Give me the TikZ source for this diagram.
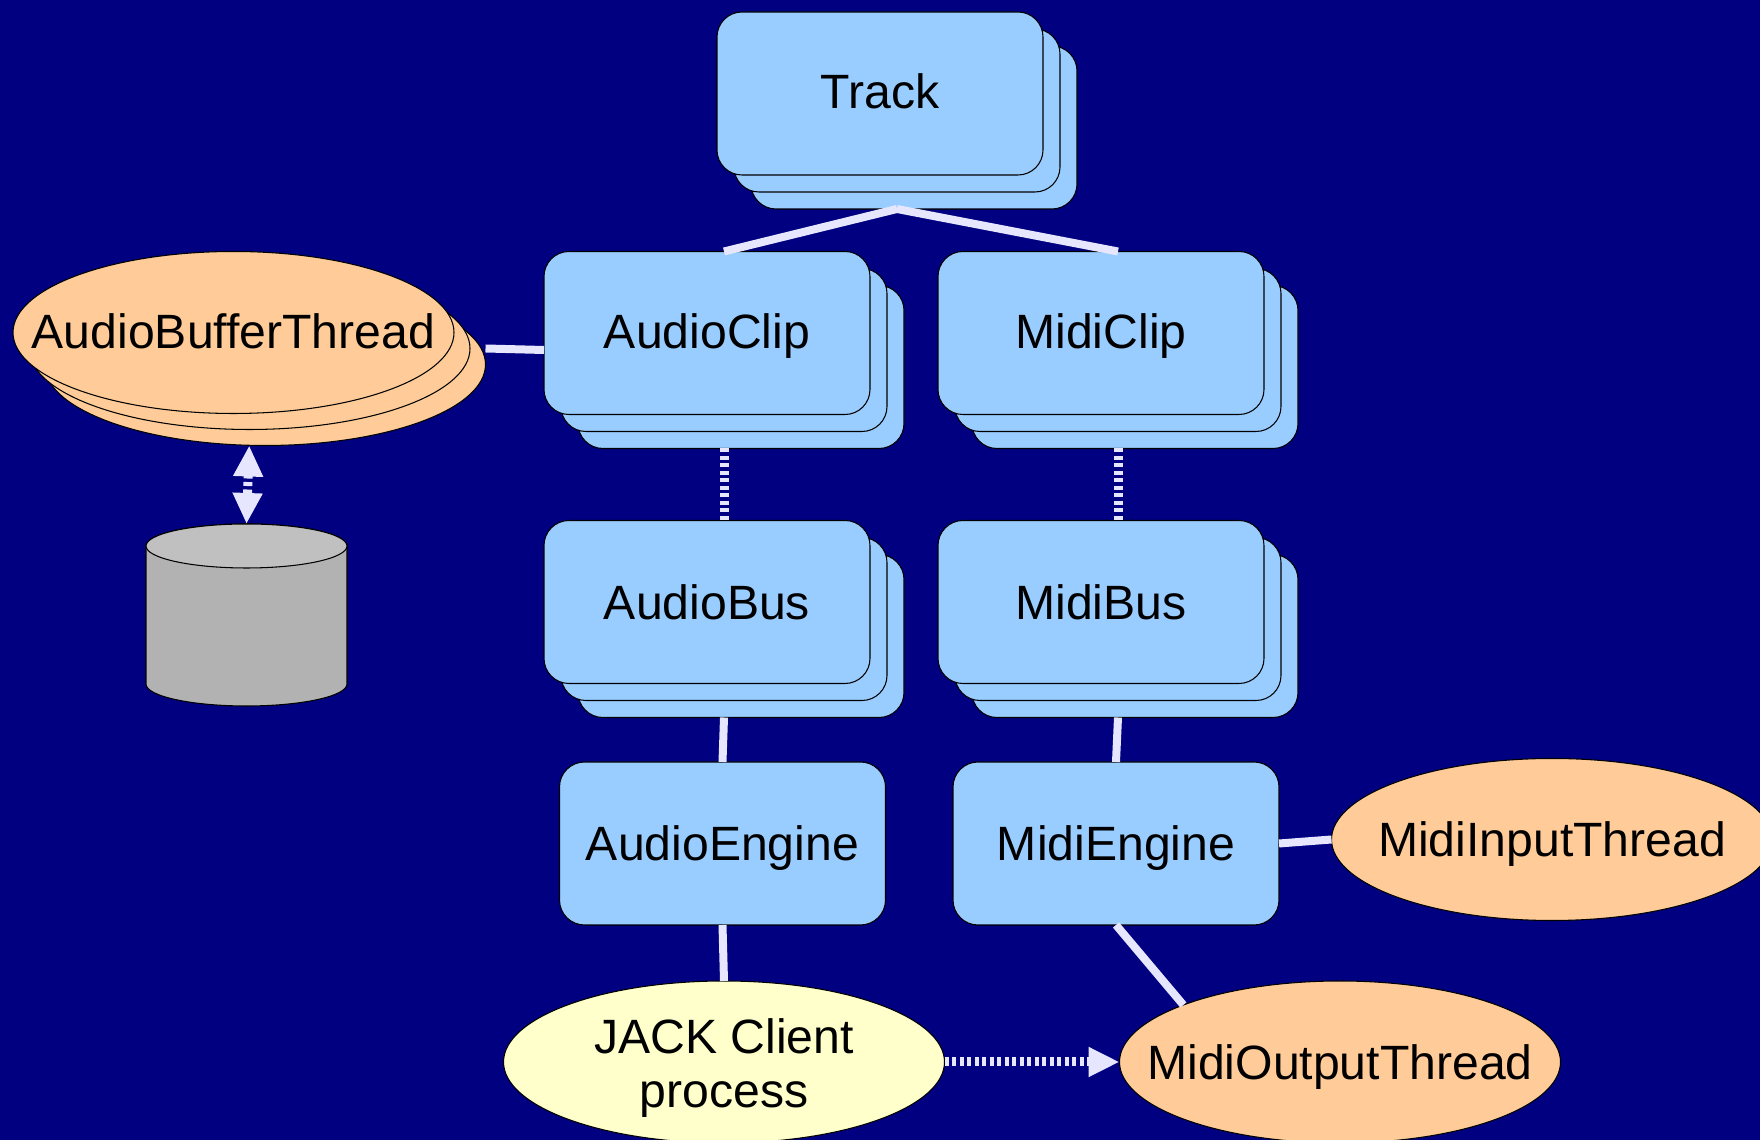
\documentclass[tikz,border=0pt]{standalone}
\usepackage{fontspec}
\setmainfont{Liberation Sans}
\usetikzlibrary{arrows.meta,shapes.geometric,positioning,fit,calc}

\definecolor{bgblue}{HTML}{000080}
\definecolor{boxblue}{HTML}{99CCFF}
\definecolor{threadorange}{HTML}{FFCC99}
\definecolor{clientyellow}{HTML}{FFFFCC}
\definecolor{linkcol}{HTML}{E6E6FF}
\definecolor{disktop}{HTML}{C0C0C0}
\definecolor{diskbody}{HTML}{B2B2B2}

\newcommand{\ovaltext}[1]{\makebox[0pt]{#1}}

\tikzset{
	label font/.style={node font=\fontsize{13.7}{15.4}\selectfont, text=black, text height=0.42cm, text depth=0.07cm},
	classbox/.style={label font, draw=black, line width=0.3pt, fill=boxblue, rounded corners=0.25cm,
		minimum width=3.26cm, minimum height=1.63cm, inner sep=0pt, outer sep=0pt},
	threadoval/.style={label font, ellipse, draw=black, line width=0.3pt, fill=threadorange,
		minimum width=4.41cm, minimum height=1.62cm, inner sep=0pt, outer sep=0pt},
	clientoval/.style={threadoval, fill=clientyellow},
	disk shape/.style={draw=black, line width=0.3pt},
	link/.style={linkcol, line width=0.08cm},
	dotlink/.style={linkcol, line width=0.09cm, dash pattern=on 0.04cm off 0.035cm},
	dothead/.style={-{Triangle[length=0.31cm,width=0.28cm]}},
}

\begin{document}
\begin{tikzpicture}
	\useasboundingbox (0,0) rectangle (17.6,11.4);
	\fill[bgblue] (0,0) rectangle (17.6,11.4);

	% Stacked classes
	\foreach \name/\x/\y/\txt/\high in {track/8.80/10.465/Track/0.37, audioclip/7.07/8.07/AudioClip/0.38, midiclip/11.01/8.07/MidiClip/0.38,
		audiobus/7.07/5.38/AudioBus/0.43, midibus/11.01/5.38/MidiBus/0.43} {
		\node[classbox] (\name-back) at (\x+0.34,\y-0.34) {};
		\node[classbox] (\name-mid) at (\x+0.17,\y-0.17) {};
		\node[classbox, text height=\high cm] (\name-front) at (\x,\y) {\txt};
		\node[fit=(\name-back)(\name-front), inner sep=0pt, outer sep=0pt] (\name) {};
	}

	% Engines
	\node[classbox] (audioengine) at (7.225,2.965) {AudioEngine};
	\node[classbox] (midiengine) at (11.16,2.965) {MidiEngine};

	% Buffer thread stack
	\node[threadoval] (buffer-back) at (2.65,7.755) {};
	\node[threadoval] (buffer-mid) at (2.495,7.915) {};
	\node[threadoval, text height=0.40cm] (buffer-front) at (2.335,8.075) {\ovaltext{AudioBufferThread}};
	\node[fit=(buffer-back)(buffer-front), inner sep=0pt, outer sep=0pt] (buffer) {};

	% Disk
	\coordinate (disk) at (2.465,6.16);
	\draw[disk shape, fill=diskbody] (1.46,5.94) -- (1.46,4.56) arc[start angle=180, end angle=360, x radius=1.005, y radius=0.22]
		-- (3.47,5.94) arc[start angle=0, end angle=180, x radius=1.005, y radius=0.22] -- cycle;
	\draw[disk shape, fill=disktop] (2.465,5.94) ellipse[x radius=1.005, y radius=0.22];

	% Other threads
	\node[threadoval] (midiinput) at (15.52,3.005) {\ovaltext{MidiInputThread}};
	\node[threadoval] (midioutput) at (13.40,0.78) {\ovaltext{MidiOutputThread}};
	\node[clientoval] (jack) at (7.24,0.78) {\ovaltext{\raisebox{-0.03cm}[0pt][0pt]{\begin{tabular}{@{}c@{}}JACK Client\\process\end{tabular}}}};

	% Solid links
	\draw[link] (track.south) -- (audioclip.north);
	\draw[link] (track.south) -- (midiclip.north);
	\draw[link] (buffer.east) -- (audioclip.west);
	\draw[link] (audiobus.south) -- (audioengine.north);
	\draw[link] (midibus.south) -- (midiengine.north);
	\draw[link] (audioengine.south) -- (jack.north);
	\draw[link] (midiengine.south) -- (midioutput.160);
	\draw[link] (midiengine.east) -- (midiinput.west);

	% Dotted links
	\draw[dotlink] (audioclip.south) -- (audiobus.north);
	\draw[dotlink] (midiclip.south) -- (midibus.north);
	\draw[dotlink, dothead] (jack.east) -- (midioutput.west);
	\draw[dotlink, {Triangle[length=0.31cm,width=0.28cm]}-{Triangle[length=0.31cm,width=0.28cm]}] (buffer.south) -- (disk);
\end{tikzpicture}
\end{document}
